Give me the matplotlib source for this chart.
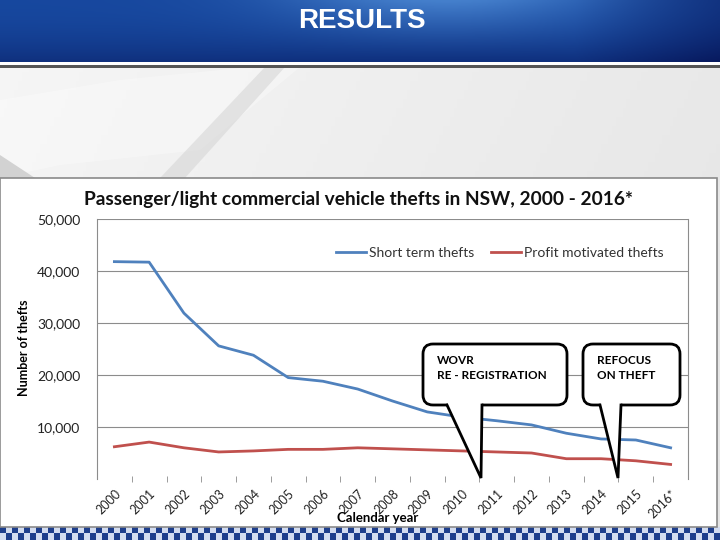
import numpy as np
import matplotlib
matplotlib.use('Agg')
from matplotlib import pyplot as plt
from matplotlib.patches import FancyBboxPatch, Polygon, Rectangle

years = ['2000', '2001', '2002', '2003', '2004', '2005', '2006', '2007', '2008',
         '2009', '2010', '2011', '2012', '2013', '2014', '2015', '2016*']
short_term = [41800, 41700, 31900, 25600, 23800, 19500, 18800, 17300, 15000,
              12900, 11900, 11200, 10400, 8800, 7700, 7500, 6000]
profit = [6200, 7100, 6000, 5200, 5400, 5700, 5700, 6000, 5800,
          5600, 5400, 5200, 5000, 3900, 3900, 3500, 2800]
y_ticks = [10000, 20000, 30000, 40000, 50000]

W, H = 720, 540
fig = plt.figure(figsize=(7.2, 5.4), dpi=100)


def px(x, y):
    # pixel position -> figure fraction
    return x / W, 1 - y / H


def add_box(x0, y0, x1, y1, z=0):
    l, b = px(x0, y1)
    return fig.add_axes([l, b, (x1 - x0) / W, (y1 - y0) / H], zorder=z)


# slide background, everything in pixel coords
bg = add_box(0, 0, W, H, z=-5)
bg.axis('off')
gx = np.linspace(0, 1, 200)
gy = np.linspace(0, 1, 60)
gray = 0.965 - 0.05 * gx[None, :] - 0.02 * gy[:, None]
bg.imshow(np.dstack([gray] * 3), extent=[0, W, H, 0], aspect='auto')
bg.add_patch(Polygon([(0, 100), (120, 80), (250, 67), (300, 67), (200, 150), (60, 165), (0, 178)],
                     closed=True, color='white', alpha=0.3, lw=0))
bg.add_patch(Polygon([(160, 178), (265, 67), (285, 67), (185, 178)],
                     closed=True, color='#d6d6d6', alpha=0.6, lw=0))
bg.add_patch(Polygon([(0, 155), (35, 178), (0, 178)], closed=True, color='#d2d2d2', lw=0))
# blue banner
bx = np.linspace(0, 1, 300)
by = np.linspace(0, 1, 40)
glow = np.exp(-((bx[None, :] - 0.62) ** 2) / 0.05) * (1 - by[:, None]) ** 1.5
dark = np.clip((bx[None, :] - 0.8) / 0.2, 0, 1) * 0.5 + by[:, None] ** 2 * 0.5
r = 0.09 + 0.18 * glow - 0.06 * dark
g = 0.28 + 0.22 * glow - 0.18 * dark
b = 0.62 + 0.18 * glow - 0.25 * dark
bg.imshow(np.clip(np.dstack([r, g, b]), 0, 1), extent=[0, W, 62, 0], aspect='auto')
bg.add_patch(Rectangle((0, 62), W, 3, color='white', lw=0))
bg.add_patch(Rectangle((0, 65), W, 2.5, color='#555555', lw=0))
# white chart panel
bg.add_patch(Rectangle((0, 178), 717, 349, facecolor='white', edgecolor='#8a8a8a', lw=1.2))
# checker strip at the bottom
cells = (np.add.outer(np.arange(2), np.arange(120)) % 2).astype(float)
bg.imshow(cells, cmap=matplotlib.colors.ListedColormap(['#1d3e8c', '#d2dcf0']),
          extent=[0, W, H, 527], aspect='auto', interpolation='nearest')
bg.set_xlim(0, W)
bg.set_ylim(H, 0)

fig.text(*px(362, 21), 'RESULTS', color='white', fontsize=20, fontweight='bold',
         family='Liberation Sans', ha='center', va='center')

# chart
ax = add_box(97, 219, 688, 479, z=1)
ax.patch.set_alpha(0)
x = np.arange(len(years))
ax.plot(x, short_term, color='#4f81bd', lw=2, label='Short term thefts')
ax.plot(x, profit, color='#c0504d', lw=2, label='Profit motivated thefts')
ax.set_xlim(-0.5, len(years) - 0.5)
ax.set_ylim(0, 50000)
ax.set_yticks(y_ticks)
ax.set_yticklabels([f'{v:,}' for v in y_ticks])
ax.grid(axis='y', color='#8c8c8c', lw=0.8)
ax.set_xticks(x)
ax.set_xticklabels(years, rotation=45, ha='right', va='top', rotation_mode='anchor')
ax.set_xticks(x[:-1] + 0.5, minor=True)
ax.tick_params(axis='x', which='major', length=0, pad=6, labelsize=9)
ax.tick_params(axis='x', which='minor', length=4, color='#8c8c8c', direction='inout')
ax.tick_params(axis='y', length=0, pad=12, labelsize=10)
for lab in ax.get_xticklabels() + ax.get_yticklabels():
    lab.set_family('Lato')
    lab.set_color('#222222')
for s in ['top', 'bottom']:
    ax.spines[s].set_visible(False)
for s in ['left', 'right']:
    ax.spines[s].set_color('#8c8c8c')
ax.set_axisbelow(True)

fig.text(*px(358, 199), 'Passenger/light commercial vehicle thefts in NSW, 2000 - 2016*',
         fontsize=13.8, fontweight='bold', family='Lato', ha='center', va='center', color='#111111')
fig.text(*px(24, 348), 'Number of thefts', fontsize=9, fontweight='bold', family='Lato',
         rotation=90, ha='center', va='center')
fig.text(*px(378, 518), 'Calendar year', fontsize=9.5, fontweight='bold', family='Lato',
         ha='center', va='center')

fig.legend(loc='center left', bbox_to_anchor=px(323, 253), ncol=2, frameon=False,
           prop={'family': 'Lato', 'size': 10}, handlelength=2.2, columnspacing=1.2,
           handletextpad=0.2, labelcolor='#333333')

# callouts
ov = add_box(0, 0, W, H, z=2)
ov.axis('off')
ov.set_xlim(0, W)
ov.set_ylim(H, 0)


def callout(x0, x1, base_l, base_r, tip, lines):
    y0, y1 = 344, 405
    ov.add_patch(FancyBboxPatch((x0 + 10, y0 + 10), x1 - x0 - 20, y1 - y0 - 20,
                                boxstyle='round,pad=10', facecolor='white', edgecolor='black',
                                lw=2, zorder=3))
    ov.add_patch(Polygon([(base_l, y1 - 2), (base_r, y1 - 2), tip], closed=True,
                         facecolor='white', edgecolor='none', zorder=4))
    ov.plot([base_l, tip[0], base_r], [y1, tip[1], y1], color='black', lw=2, zorder=5,
            solid_joinstyle='miter')
    ov.text(x0 + 14, y0 + 11, lines, fontsize=8.5, fontweight='bold', family='Lato',
            va='top', ha='left', linespacing=1.45, zorder=6)


callout(423, 567, 447, 482, (481, 478), 'WOVR\nRE - REGISTRATION')
callout(583, 680, 600, 621, (618, 478), 'REFOCUS\nON THEFT')

fig.savefig('out.png', dpi=100)
